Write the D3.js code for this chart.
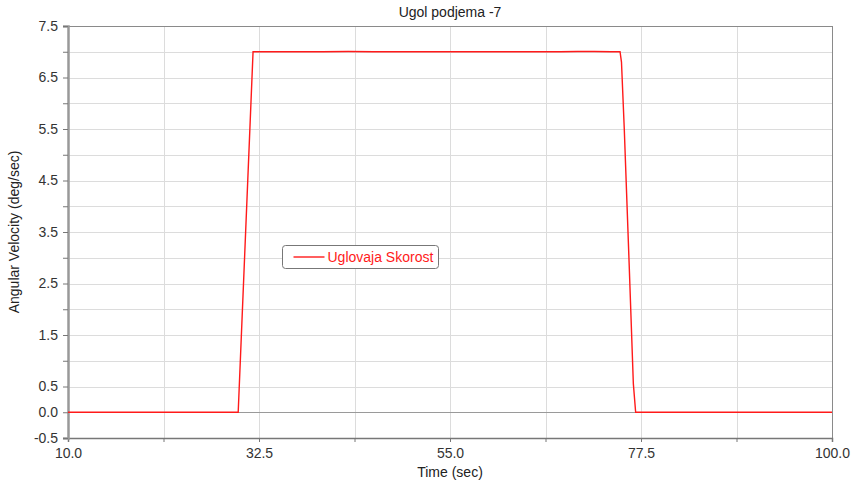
<!DOCTYPE html>
<html>
<head>
<meta charset="utf-8">
<script src="https://cdn.jsdelivr.net/npm/d3@7"></script>
<style>
  body { margin: 0; background: #fff; }
  text { font-family: "Liberation Sans", Arial, sans-serif; }
</style>
</head>
<body>
<div class="canvas"></div>
<script>
// time (sec) and angular velocity (deg/sec)
const time = [10, 30.05, 30.5, 31.2, 31.8, 33, 40, 43, 46, 55, 68, 70, 72, 74, 75.03, 75.2, 75.53, 76.1, 76.6, 76.87, 80, 90, 100];
const velocity = [0, 0, 1.8, 4.6, 7.0, 7.0, 7.0, 7.005, 7.0, 7.0, 7.0, 7.005, 7.005, 7.0, 7.0, 6.8, 5.5, 2.9, 0.55, 0, 0, 0, 0];

const xTicks = [10, 21.25, 32.5, 43.75, 55, 66.25, 77.5, 88.75, 100];
const xLabels = [10, 32.5, 55, 77.5, 100];
const yTicks = [-0.5, 0, 0.5, 1, 1.5, 2, 2.5, 3, 3.5, 4, 4.5, 5, 5.5, 6, 6.5, 7, 7.5];
const yLabels = [-0.5, 0, 0.5, 1.5, 2.5, 3.5, 4.5, 5.5, 6.5, 7.5];

const seriesName = "Uglovaja Skorost";
const title = "Ugol podjema -7";

const width = 857, height = 483;
const margin = { top: 26, right: 25, bottom: 45, left: 68 };

const svg = d3.select(".canvas").append("svg")
  .attr("width", width)
  .attr("height", height);

let x = d3.scaleLinear().domain([10, 100]).range([margin.left, width - margin.right]);
let y = d3.scaleLinear().domain([-0.5, 7.5]).range([height - margin.bottom, margin.top]);

// grid
svg.append("g")
  .selectAll("line")
  .data(xTicks.slice(1, -1))
  .join("line")
  .attr("x1", (d) => Math.round(x(d)) + 0.5)
  .attr("x2", (d) => Math.round(x(d)) + 0.5)
  .attr("y1", y(7.5))
  .attr("y2", y(-0.5))
  .attr("stroke", "#dcdcdc");

svg.append("g")
  .selectAll("line")
  .data(yTicks.slice(1, -1))
  .join("line")
  .attr("x1", x(10))
  .attr("x2", x(100))
  .attr("y1", (d) => Math.round(y(d)) + 0.5)
  .attr("y2", (d) => Math.round(y(d)) + 0.5)
  .attr("stroke", (d) => (d === 0 ? "#9a9a9a" : "#dcdcdc"));

// frame
svg.append("line")
  .attr("x1", x(10)).attr("x2", x(100))
  .attr("y1", Math.round(y(7.5)) + 0.5).attr("y2", Math.round(y(7.5)) + 0.5)
  .attr("stroke", "#8a8a8a");
svg.append("line")
  .attr("x1", Math.round(x(100)) + 0.5).attr("x2", Math.round(x(100)) + 0.5)
  .attr("y1", y(7.5)).attr("y2", y(-0.5))
  .attr("stroke", "#8a8a8a");

// x axis
const xAxis = svg.append("g")
  .attr("transform", `translate(0,${Math.round(y(-0.5))})`)
  .call(d3.axisBottom(x).tickValues(xTicks).tickSize(4).tickFormat((d) => (xLabels.includes(d) ? d.toFixed(1) : "")));
xAxis.select(".domain").attr("stroke", "#777").attr("stroke-width", 1.5);
xAxis.selectAll(".tick line").attr("stroke", "#777");
xAxis.selectAll(".tick text")
  .attr("fill", "#333")
  .attr("y", 20)
  .attr("dy", 0)
  .style("font-size", "14px");

// y axis
const yAxis = svg.append("g")
  .attr("transform", `translate(${Math.round(x(10))},0)`)
  .call(d3.axisLeft(y).tickValues(yTicks).tickSize(5).tickFormat((d) => (yLabels.includes(d) ? d.toFixed(1) : "")));
yAxis.select(".domain").attr("stroke", "#999").attr("stroke-width", 2.5);
yAxis.selectAll(".tick line").attr("stroke", "#777");
yAxis.selectAll(".tick text")
  .attr("fill", "#333")
  .attr("x", -10)
  .style("font-size", "14px");

// series
let line = d3.line()
  .x((d, i) => x(time[i]))
  .y((d) => y(d));
svg.append("path")
  .datum(velocity)
  .attr("d", line)
  .attr("fill", "none")
  .attr("stroke", "#ff1a1a")
  .attr("stroke-width", 1.4);

// title and axis labels
svg.append("text")
  .attr("x", 450).attr("y", 17)
  .attr("text-anchor", "middle")
  .attr("fill", "#222")
  .style("font-size", "14px")
  .text(title);

svg.append("text")
  .attr("x", 450).attr("y", 477)
  .attr("text-anchor", "middle")
  .attr("fill", "#222")
  .style("font-size", "14px")
  .text("Time (sec)");

svg.append("text")
  .attr("transform", `translate(19,${(y(7.5) + y(-0.5)) / 2}) rotate(-90)`)
  .attr("text-anchor", "middle")
  .attr("fill", "#222")
  .style("font-size", "14px")
  .text("Angular Velocity (deg/sec)");

// legend
const legend = svg.append("g").attr("transform", "translate(282.5,245.5)");
legend.append("rect")
  .attr("width", 156).attr("height", 23)
  .attr("rx", 3)
  .attr("fill", "#fff")
  .attr("stroke", "#777");
legend.append("line")
  .attr("x1", 11).attr("x2", 42)
  .attr("y1", 11.5).attr("y2", 11.5)
  .attr("stroke", "#ff1a1a")
  .attr("stroke-width", 1.4);
legend.append("text")
  .attr("x", 45).attr("y", 16.5)
  .attr("fill", "#ff1a1a")
  .style("font-size", "14px")
  .text(seriesName);
</script>
</body>
</html>
